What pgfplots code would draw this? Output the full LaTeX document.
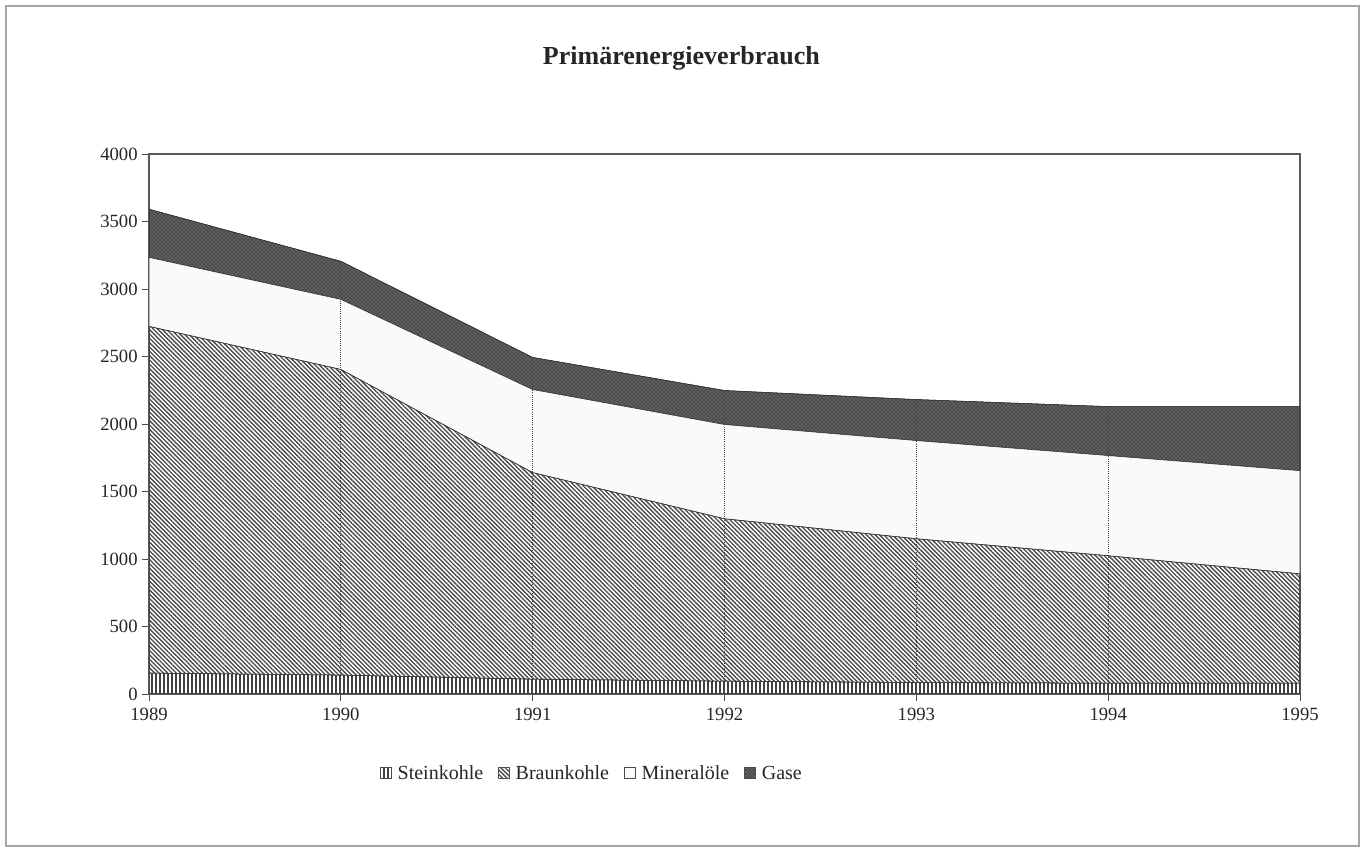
\documentclass[border=0pt]{standalone}
\usepackage{fontspec}
\setmainfont{Liberation Serif}
\usepackage{pgfplots}
\pgfplotsset{compat=1.18}
\usetikzlibrary{patterns,patterns.meta}
\begin{document}
\begin{tikzpicture}
\path (0,0) rectangle (1022.25pt,636pt);
\draw[black!35, line width=1.5pt] (4.5pt,1.5pt) rectangle (1019.25pt,631.5pt);
\node[font=\bfseries\fontsize{19.5}{23}\selectfont, text=black!85] at (511pt,592pt) {Primärenergieverbrauch};
\begin{axis}[
  at={(111.75pt,115.5pt)}, anchor=south west, scale only axis,
  width=863.25pt, height=405pt,
  xmin=1989, xmax=1995, ymin=0, ymax=4000,
  xtick={1989,1990,1991,1992,1993,1994,1995},
  ytick={0,500,1000,1500,2000,2500,3000,3500,4000},
  tick align=outside, tick pos=left, major tick length=5pt,
  axis line style={black!65, line width=0.8pt}, tick style={black!70, line width=0.7pt},
  /pgf/number format/assume math mode=true, /pgf/number format/1000 sep={},
  ticklabel style={font=\fontsize{14}{16}\selectfont, text=black!85},
  xticklabel style={yshift=-2pt},
  stack plots=y,
  legend columns=4,
  legend style={at={(0.385,-0.148)}, anchor=center, draw=none, fill=none,
    font=\fontsize{15}{18}\selectfont, text=black!85,
    /tikz/every even column/.append style={column sep=9pt},
    /tikz/every odd column/.append style={column sep=2.5pt}},
  legend image code/.code={\draw[#1, draw=black!70, line width=0.4pt] (0pt,-3.5pt) rectangle (8.5pt,5pt);},
]
\addplot[draw=black!80, line width=0.4pt,
  pattern={Lines[angle=90,distance=3pt,line width=0.8pt]}, pattern color=black!75]
  coordinates {(1989,155) (1990,140) (1991,110) (1992,95) (1993,85) (1994,80) (1995,80)} \closedcycle;
\addlegendentry{Steinkohle}
\addplot[draw=black!80, line width=0.4pt,
  pattern={Lines[angle=-45,distance=2.3pt,line width=1pt]}, pattern color=black!72]
  coordinates {(1989,2568) (1990,2264) (1991,1530) (1992,1203) (1993,1065) (1994,944) (1995,810)} \closedcycle;
\addlegendentry{Braunkohle}
\addplot[draw=black!80, line width=0.4pt, fill=black!2]
  coordinates {(1989,511) (1990,519) (1991,615) (1992,698) (1993,727) (1994,742) (1995,764)} \closedcycle;
\addlegendentry{Mineralöle}
\addplot[draw=black!80, line width=0.4pt, fill=black!62,
  postaction={pattern=crosshatch dots, pattern color=black}]
  coordinates {(1989,357) (1990,282) (1991,238) (1992,252) (1993,304) (1994,363) (1995,475)} \closedcycle;
\addlegendentry{Gase}
\end{axis}
\begin{axis}[
  at={(111.75pt,115.5pt)}, anchor=south west, scale only axis,
  width=863.25pt, height=405pt,
  xmin=1989, xmax=1995, ymin=0, ymax=4000, hide axis,
]
\addplot[ycomb, densely dotted, black!75, line width=0.6pt, mark=none]
  coordinates {(1990,3205) (1991,2493) (1992,2248) (1993,2181) (1994,2129)};
\end{axis}
\end{tikzpicture}
\end{document}
